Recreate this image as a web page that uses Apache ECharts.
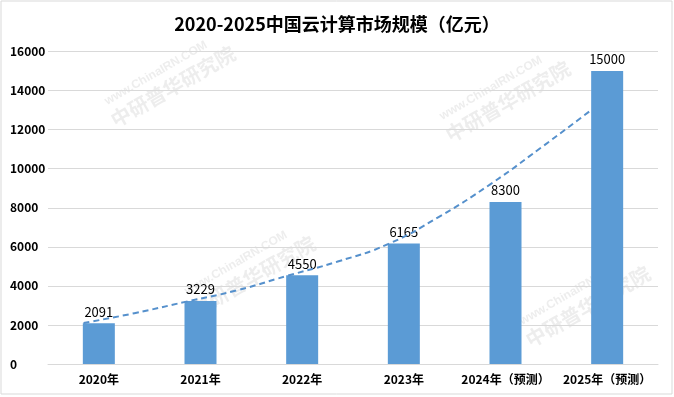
<!DOCTYPE html>
<html>
<head>
<meta charset="utf-8">
<script src="https://cdn.jsdelivr.net/npm/echarts@6/dist/echarts.min.js"></script>
<style>
html, body { margin: 0; padding: 0; background: #fff; }
#container { width: 674px; height: 397px; }
</style>
</head>
<body>
<div id="container"></div>
<script>
var dom = document.getElementById('container');
var myChart = echarts.init(dom);

// 年份 / 市场规模（亿元）
let years = ['2020年', '2021年', '2022年', '2023年', '2024年（预测）', '2025年（预测）']
let marketSize = [2091, 3229, 4550, 6165, 8300, 15000]
// 趋势线（读图估计，位置以类目为单位）
let trendX = [0.35, 0.85, 1.35, 1.85, 2.35, 2.85, 3.35, 3.85, 4.35, 4.85, 5.35]
let trendY = [2100, 2600, 3180, 3760, 4510, 5245, 6150, 7550, 9200, 11080, 13030]

let trendData = trendX.map(function (x, i) { return [x, trendY[i]] })

let fontCn = '"Noto Sans CJK SC", "Liberation Sans", sans-serif'

// 水印
let marks = [[160, 80], [495, 95], [240, 270], [575, 300]]
let graphics = [{
    type: 'rect',
    shape: { x: 1, y: 1, width: 671, height: 393 },
    style: { fill: 'none', stroke: '#d9d9d9', lineWidth: 1 },
    silent: true
}]
marks.forEach(function (m) {
    graphics.push({
        type: 'group',
        x: m[0],
        y: m[1],
        rotation: Math.PI / 6,
        silent: true,
        z: 0,
        children: [{
            type: 'text',
            x: 0, y: -8,
            style: {
                text: 'www.ChinaIRN.COM',
                fill: 'rgba(190,190,190,0.28)',
                font: 'bold 12px "Liberation Sans"',
                textAlign: 'center', textVerticalAlign: 'middle'
            }
        }, {
            type: 'text',
            x: 8, y: 12,
            style: {
                text: '中研普华研究院',
                fill: 'rgba(190,190,190,0.28)',
                font: 'bold 20px "Noto Sans CJK SC"',
                textAlign: 'center', textVerticalAlign: 'middle'
            }
        }]
    })
})

option = {
    backgroundColor: '#ffffff',
    animation: false,
    title: {
        text: '2020-2025中国云计算市场规模（亿元）',
        left: 'center',
        top: 10,
        textStyle: {
            color: '#000',
            fontSize: 18,
            fontWeight: 'bold',
            fontFamily: fontCn
        }
    },
    graphic: graphics,
    grid: {
        top: 51.5,
        left: 48,
        right: 16,
        bottom: 33
    },
    xAxis: [{
        type: 'category',
        data: years,
        axisLine: { show: true, lineStyle: { color: '#d9d9d9' } },
        axisTick: { show: false },
        axisLabel: {
            color: '#000',
            fontSize: 12,
            fontWeight: 'bold',
            fontFamily: fontCn,
            margin: 9,
            interval: 0
        }
    }, {
        type: 'value',
        min: 0,
        max: 6,
        show: false
    }],
    yAxis: {
        type: 'value',
        min: 0,
        max: 16000,
        interval: 2000,
        axisLine: { show: false },
        axisTick: { show: false },
        splitLine: { lineStyle: { color: '#d9d9d9' } },
        axisLabel: {
            color: '#000',
            fontSize: 12,
            fontWeight: 'bold',
            fontFamily: fontCn,
            align: 'left',
            margin: 38,
            formatter: function (v) { return String(v) }
        }
    },
    series: [{
        name: '市场规模',
        type: 'bar',
        data: marketSize,
        barWidth: 32,
        itemStyle: { color: '#5b9bd5' },
        label: {
            show: true,
            position: 'top',
            distance: 5,
            color: '#000',
            fontSize: 13,
            fontFamily: fontCn
        },
        z: 2
    }, {
        name: '趋势',
        type: 'line',
        xAxisIndex: 1,
        data: trendData,
        smooth: true,
        symbol: 'none',
        lineStyle: {
            color: '#5590cc',
            width: 2,
            type: [6, 4]
        },
        z: 3
    }]
};
myChart.setOption(option);

window.addEventListener("resize", function () {
    myChart.resize();
});
</script>
</body>
</html>
